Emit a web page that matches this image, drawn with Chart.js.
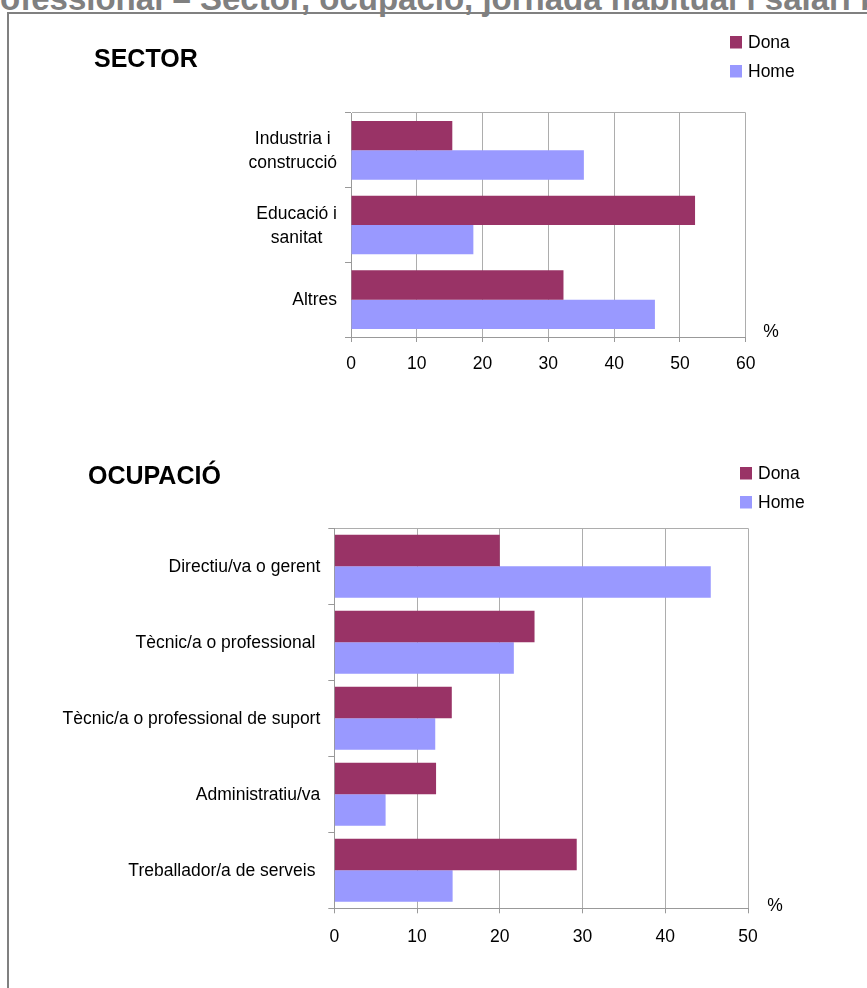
<!DOCTYPE html>
<html>
<head>
<meta charset="utf-8">
<title>Sector i ocupació</title>
<script src="https://cdn.jsdelivr.net/npm/chart.js@4.4.0/dist/chart.umd.min.js"></script>
<style>
  html, body { margin: 0; padding: 0; background: #fff; overflow: hidden; }
  #page { position: relative; width: 867px; height: 988px; overflow: hidden; }
  #pageTitle { position: absolute; top: -18px; left: 0; white-space: nowrap;
    font: bold 33px "Liberation Sans", Arial, sans-serif; line-height: 33px; color: #808080; }
  #frame { position: absolute; left: 7px; top: 12px; width: 900px; height: 1000px;
    border-left: 2px solid #808080; border-top: 2px solid #808080; }
  canvas { position: absolute; left: 0; }
</style>
</head>
<body>
<div id="page">
  <div id="pageTitle"><span id="titlePre">Situació professional – </span>Sector, ocupació, jornada habitual i salari brut</div>
  <div id="frame"></div>
  <canvas id="sectorChart" width="867" height="420" style="top:0px"></canvas>
  <canvas id="ocupChart" width="867" height="568" style="top:420px"></canvas>
</div>
<script>
// ---------- data ----------
const seriesNames = ["Dona", "Home"];
const seriesColors = ["#993366", "#9999FF"];

const sectorLabels = [["Industria i", "construcció"], ["Educació i", "sanitat"], "Altres"];
const sectorDona = [15.4, 52.3, 32.3];
const sectorHome = [35.4, 18.6, 46.2];
const sectorMax = 60;

const ocupLabels = ["Directiu/va o gerent", "Tècnic/a o professional ", "Tècnic/a o professional de suport", "Administratiu/va", "Treballador/a de serveis "];
const ocupDona = [20.0, 24.2, 14.2, 12.3, 29.3];
const ocupHome = [45.5, 21.7, 12.2, 6.2, 14.3];
const ocupMax = 50;

const tickStep = 10;

// ---------- page title: keep "Sector" where it sits in the original ----------
const pre = document.getElementById("titlePre");
document.getElementById("pageTitle").style.left = (200 - pre.getBoundingClientRect().width) + "px";

// ---------- shared style ----------
const FAMILY = '"Liberation Sans", Arial, sans-serif';
const FS = 17.5;
const GRID = "#adadad";
const AXIS = "#999999";

Chart.defaults.font.family = FAMILY;
Chart.defaults.font.size = FS;
Chart.defaults.color = "#000";

// draws the block title, the legend, the "%" unit and the category labels
const decoPlugin = {
  id: "deco",
  afterDraw(chart, args, o) {
    const ctx = chart.ctx;
    const area = chart.chartArea;
    const yScale = chart.scales.y;
    ctx.save();
    ctx.fillStyle = "#000";

    // title
    ctx.font = "bold 25px " + FAMILY;
    ctx.textAlign = "left";
    ctx.textBaseline = "alphabetic";
    ctx.fillText(o.title, o.titleX, o.titleY);

    // legend
    ctx.font = FS + "px " + FAMILY;
    chart.data.datasets.forEach((ds, i) => {
      const top = o.legendY + i * 29;
      ctx.fillStyle = ds.backgroundColor;
      ctx.fillRect(o.legendX, top, 12, 12.5);
      ctx.fillStyle = "#000";
      ctx.fillText(ds.label, o.legendX + 18, top + 12.3);
    });

    // unit
    ctx.textAlign = "center";
    ctx.fillText("%", o.pctX, area.bottom + o.pctDy);

    // category labels: block right aligned, lines centred inside the block
    ctx.textBaseline = "middle";
    chart.data.labels.forEach((lab, i) => {
      const lines = [].concat(lab);
      const w = Math.max(...lines.map(l => ctx.measureText(l).width));
      const cx = area.left - 14 - w / 2;
      const cy = yScale.getPixelForValue(i) + 1;
      lines.forEach((l, j) => ctx.fillText(l, cx, cy + (j - (lines.length - 1) / 2) * 24));
    });
    ctx.restore();
  }
};

function makeChart(id, labels, dona, home, max, cfg) {
  return new Chart(document.getElementById(id), {
    type: "bar",
    data: {
      labels: labels,
      datasets: [
        { label: seriesNames[0], data: dona, backgroundColor: seriesColors[0] },
        { label: seriesNames[1], data: home, backgroundColor: seriesColors[1] }
      ]
    },
    options: {
      indexAxis: "y",
      responsive: false,
      animation: false,
      events: [],
      categoryPercentage: cfg.catPct,
      barPercentage: 1.0,
      layout: { padding: cfg.padding },
      plugins: {
        legend: { display: false },
        title: { display: false },
        tooltip: { enabled: false },
        deco: cfg.deco
      },
      scales: {
        x: {
          min: 0,
          max: max,
          ticks: { stepSize: tickStep, padding: cfg.tickPad, font: { size: FS }, color: "#000" },
          grid: { color: GRID, tickColor: AXIS, tickLength: 5 },
          border: { color: AXIS },
          afterFit: s => { s.height = 40; }
        },
        y: {
          type: "category",
          offset: true,
          ticks: { display: false },
          grid: {
            offset: true,
            drawOnChartArea: true,
            color: c => (c.index === 0 ? GRID : "rgba(0,0,0,0)"),
            tickColor: AXIS,
            tickLength: 6
          },
          border: { color: AXIS },
          afterFit: s => { s.width = cfg.leftW; }
        }
      }
    },
    plugins: [decoPlugin]
  });
}

makeChart("sectorChart", sectorLabels, sectorDona, sectorHome, sectorMax, {
  catPct: 0.786,
  padding: { left: 0, top: 113, right: 121.3, bottom: 43 },
  leftW: 351,
  tickPad: 11.5,
  deco: { title: "SECTOR", titleX: 94, titleY: 67.3, legendX: 730, legendY: 36, pctX: 771, pctDy: 0 }
});

makeChart("ocupChart", ocupLabels, ocupDona, ocupHome, ocupMax, {
  catPct: 0.83,
  padding: { left: 0, top: 108.3, right: 119, bottom: 39.7 },
  leftW: 334.3,
  tickPad: 13,
  deco: { title: "OCUPACIÓ", titleX: 88, titleY: 64, legendX: 740, legendY: 47, pctX: 775, pctDy: 3 }
});
</script>
</body>
</html>
